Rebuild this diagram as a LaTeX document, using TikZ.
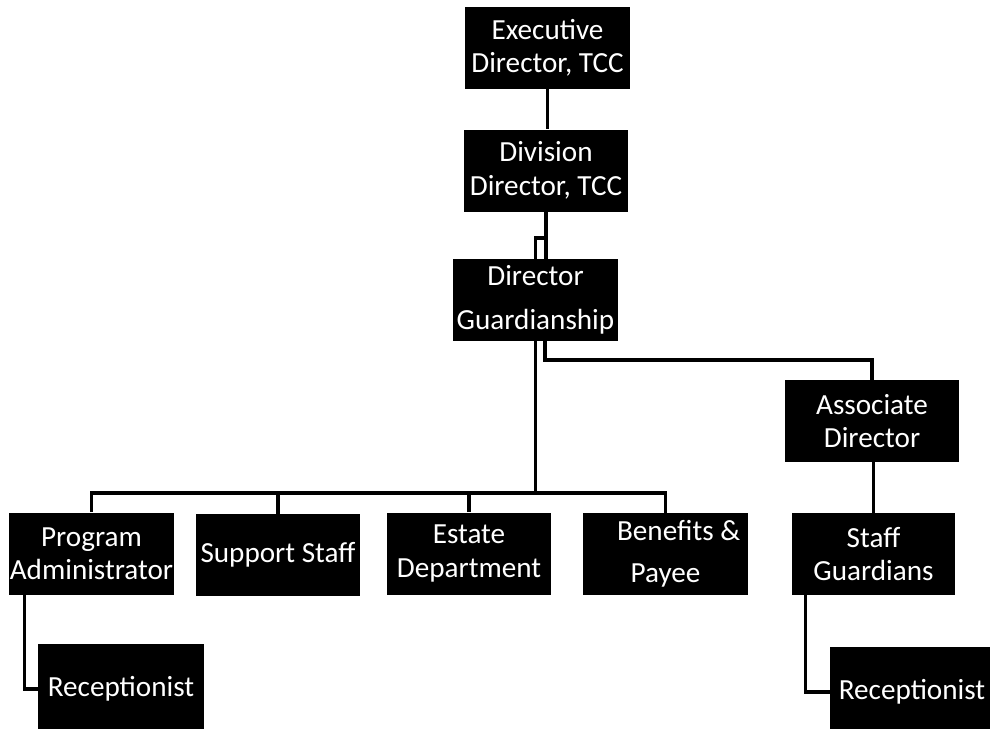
\documentclass[tikz,border=0pt]{standalone}
\usepackage{fontspec}
\setmainfont{Carlito}
\tikzset{
  post/.style={fill=black, text=white, align=center, inner sep=0pt,
    minimum width=3.3cm, minimum height=1.64cm,
    font=\fontsize{16.6}{19}\selectfont},
  link/.style={line width=2pt, draw=black}
}
\begin{document}
\begin{tikzpicture}[x=0.02cm, y=-0.02cm]
  \useasboundingbox (0,0) rectangle (990,728);

  % top of the chart
  \node[post] (exec) at (547.5,48) {Executive\\Director, TCC};
  \node[post] (div) at (546,170.5) {Division\\Director, TCC};
  \node[post] (dirg) at (535.5,300) {Director\\[6pt]Guardianship};
  \node[post, minimum width=3.48cm] (assoc) at (872,421) {Associate\\Director};

  % second row
  \node[post] (prog) at (91.5,553.5) {Program\\Administrator};
  \node[post] (supp) at (278,555) {Support Staff};
  \node[post] (estate) at (469,553.5) {Estate\\Department};
  \node[post] (benef) at (665.5,554) {\hspace*{0.9em}Benefits \&\\[5pt]Payee};
  \node[post, minimum width=3.26cm] (staffg) at (873.5,554) {Staff\\Guardians};

  % receptionists
  \node[post, minimum width=3.32cm, minimum height=1.8cm] (recl) at (121,689) {Receptionist};
  \node[post, minimum width=3.28cm, minimum height=1.8cm] (recr) at (912,692) {Receptionist};

  \coordinate (kink) at (546,238);
  \coordinate (bus) at (0,493);
  \coordinate (split) at (545,360);

  \draw[link] (exec.south) -- (exec.south |- div.north);
  \draw[link] (div.south) -- (div.south |- dirg.north);
  \draw[link] (dirg.north) |- (kink);

  \draw[link] (dirg.south) -- (dirg.south |- bus);
  \draw[link] (prog.north) |- (bus -| benef.north) -- (benef.north);
  \draw[link] (supp.north) -- (supp.north |- bus);
  \draw[link] (estate.north) -- (estate.north |- bus);

  \draw[link] (split |- dirg.south) -- (split) -| (assoc.north);
  \draw[link] (assoc.south -| staffg.north) -- (staffg.north);

  \draw[link] ([xshift=0.32cm]prog.south west) |- (recl.west);
  \draw[link] ([xshift=0.28cm]staffg.south west) |- (recr.west);
\end{tikzpicture}
\end{document}
